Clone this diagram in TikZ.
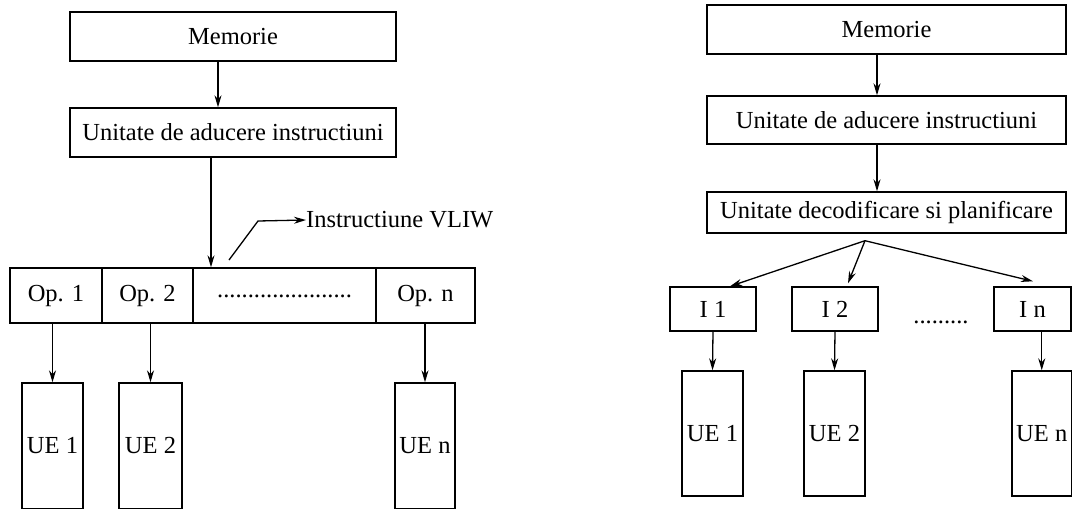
\documentclass[tikz,border=0pt]{standalone}
\usepackage{fontspec}
\setmainfont{Liberation Serif}
\usetikzlibrary{arrows.meta,calc}
\begin{document}
\begin{tikzpicture}[x=1pt,y=-1pt,
  every node/.style={font=\fontsize{24.5}{28}\selectfont, inner sep=0pt},
  box/.style={draw, line width=1.4pt, rectangle, align=center},
  arr/.style={line width=1.3pt, -{Stealth[length=12pt,width=7pt]}},
  ln/.style={line width=1.3pt}]
\useasboundingbox (0,0) rectangle (1072,509);

% ---------------- left diagram ----------------
\node[box, minimum width=326, minimum height=49] (mem1) at (233,36.5) {Memorie};
\node[box, minimum width=326, minimum height=49] (uf1) at (233,132.5) {Unitate de aducere instructiuni};

\node[box, minimum width=92, minimum height=55] (op1) at (56,295.5) {Op. 1};
\node[box, minimum width=91, minimum height=55] (op2) at (147.5,295.5) {Op. 2};
\node[box, minimum width=183, minimum height=55] (dots1) at (284.5,295.5) {\raisebox{-4pt}{......................}};
\node[box, minimum width=99, minimum height=55] (opn) at (425.5,295.5) {Op. n};

\node[box, minimum width=61, minimum height=126] (ue1) at (52.5,446) {UE 1};
\node[box, minimum width=63, minimum height=126] (ue2) at (150.5,446) {UE 2};
\node[box, minimum width=60, minimum height=126] (uen) at (425,446) {UE n};

\node[anchor=west] (vliw) at (306,220) {Instructiune VLIW};
\coordinate (vs) at (229,260);
\coordinate (vk) at (258,221);

\draw[arr] ([xshift=-15pt]mem1.south) -- ([xshift=-15pt]uf1.north);
\draw[arr] ([xshift=-22pt]uf1.south) -- ([xshift=-22pt]uf1.south |- dots1.north);
\draw[arr] (vs) -- (vk) -- (vliw.west);
\draw[arr] (ue1.north |- op1.south) -- (ue1.north);
\draw[arr] (ue2.north |- op2.south) -- (ue2.north);
\draw[arr] (uen.north |- opn.south) -- (uen.north);

% ---------------- right diagram ----------------
\node[box, minimum width=359, minimum height=49] (mem2) at (886.5,29.5) {Memorie};
\node[box, minimum width=359, minimum height=48] (uf2) at (886.5,120) {Unitate de aducere instructiuni};
\node[box, minimum width=359, minimum height=41] (dec) at (886.5,212.5) {Unitate decodificare si planificare};

\node[box, minimum width=86, minimum height=44] (i1) at (713,309) {I 1};
\node[box, minimum width=86, minimum height=44] (i2) at (835,309) {I 2};
\node[box, minimum width=77, minimum height=44] (in) at (1032.5,309) {I n};
\node (dots2) at (941,322) {.........};

\node[box, minimum width=61, minimum height=125] (ur1) at (712.5,433.5) {UE 1};
\node[box, minimum width=61, minimum height=125] (ur2) at (834.5,433.5) {UE 2};
\node[box, minimum width=59.5, minimum height=125] (urn) at (1041.75,433.5) {UE n};

\coordinate (fan) at ([xshift=-21.5pt,yshift=-7pt]dec.south);

\draw[arr] ([xshift=-9.5pt]mem2.south) -- ([xshift=-9.5pt]uf2.north);
\draw[arr] ([xshift=-9.5pt]uf2.south) -- ([xshift=-9.5pt]uf2.south |- dec.north);
\draw[arr] (fan) -- ([xshift=17pt]i1.north);
\draw[arr] (fan) -- ([xshift=13pt,yshift=3pt]i2.north);
\draw[arr] (fan) -- ([xshift=0.5pt,yshift=5pt]in.north);
\draw[arr] (i1.south) -- (ur1.north);
\draw[arr] (i2.south) -- (ur2.north);
\draw[arr] (urn.north |- in.south) -- (urn.north);
\end{tikzpicture}
\end{document}
